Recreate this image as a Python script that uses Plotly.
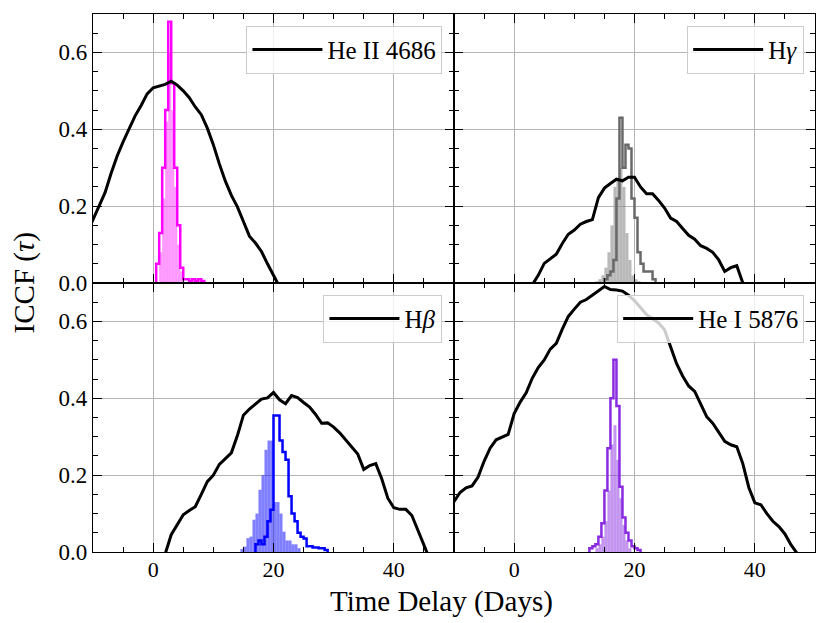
import plotly.graph_objects as go
from plotly.subplots import make_subplots

# ICCF curves (lag in days, correlation coefficient)
heii_lag = list(range(-11, 24))
heii_iccf = [0.13, 0.165, 0.20, 0.235, 0.285, 0.33, 0.367, 0.402, 0.435, 0.462,
             0.492, 0.508, 0.512, 0.517, 0.525, 0.515, 0.50, 0.482, 0.458, 0.438,
             0.403, 0.36, 0.31, 0.265, 0.228, 0.198, 0.16, 0.122, 0.104, 0.082,
             0.05, 0.018, -0.01, -0.04, -0.06]

hg_lag = list(range(2, 40))
hg_iccf = [-0.03, -0.005, 0.02, 0.051, 0.064, 0.075, 0.103, 0.127, 0.138, 0.153,
           0.16, 0.165, 0.222, 0.247, 0.259, 0.27, 0.266, 0.275, 0.275, 0.25,
           0.232, 0.232, 0.215, 0.195, 0.169, 0.16, 0.142, 0.124, 0.114, 0.097,
           0.09, 0.08, 0.06, 0.03, 0.04, 0.045, 0.0, -0.03]

hb_lag = list(range(1, 47))
hb_iccf = [-0.03, -0.005, 0.045, 0.072, 0.097, 0.108, 0.118, 0.15, 0.183, 0.20,
           0.228, 0.243, 0.258, 0.303, 0.356, 0.372, 0.386, 0.398, 0.401, 0.415,
           0.396, 0.386, 0.407, 0.402, 0.389, 0.377, 0.358, 0.335, 0.336, 0.325,
           0.31, 0.292, 0.275, 0.255, 0.215, 0.225, 0.23, 0.19, 0.14, 0.115,
           0.111, 0.111, 0.095, 0.055, 0.015, -0.02]

hei_lag = list(range(-11, 49))
hei_iccf = [0.115, 0.131, 0.155, 0.167, 0.172, 0.195, 0.236, 0.27, 0.292, 0.299,
            0.306, 0.36, 0.39, 0.414, 0.452, 0.48, 0.50, 0.528, 0.543, 0.58,
            0.613, 0.632, 0.65, 0.657, 0.668, 0.681, 0.691, 0.683, 0.682, 0.679,
            0.668, 0.654, 0.637, 0.618, 0.607, 0.596, 0.578, 0.532, 0.49, 0.458,
            0.432, 0.418, 0.383, 0.352, 0.335, 0.312, 0.288, 0.279, 0.274, 0.23,
            0.168, 0.128, 0.123, 0.10, 0.08, 0.066, 0.047, 0.019, -0.003, -0.03]

# CCCD histograms: first bin edge, heights of 0.5-day bins
BIN_W = 0.5
heii_fill_start = 1.0
heii_fill = [0.08, 0.22, 0.42, 0.60, 0.45, 0.25, 0.10, 0.03]
heii_step_start = 0.5
heii_step = [0.05, 0.13, 0.30, 0.45, 0.68, 0.52, 0.30, 0.15, 0.04, 0.01,
             0.01, 0.005, 0.01, 0.005, 0.01, 0.005]

hg_fill_start = 13.5
hg_fill = [0.005, 0.01, 0.02, 0.04, 0.08, 0.15, 0.25, 0.27, 0.30, 0.25,
           0.13, 0.06, 0.02, 0.01, 0.005]
hg_step_start = 15.0
hg_step = [0.01, 0.02, 0.03, 0.06, 0.22, 0.43, 0.30, 0.36, 0.35, 0.22,
           0.17, 0.08, 0.05, 0.03, 0.03, 0.03, 0.01]

hb_fill_start = 14.5
hb_fill = [0.008, 0.014, 0.036, 0.04, 0.084, 0.10, 0.162, 0.20, 0.266, 0.29,
           0.29, 0.13, 0.13, 0.10, 0.053, 0.03, 0.03, 0.02, 0.02, 0.01]
hb_step_start = 17.0
hb_step = [0.02, 0.03, 0.02, 0.04, 0.08, 0.11, 0.355, 0.355, 0.29, 0.26,
           0.24, 0.145, 0.10, 0.08, 0.05, 0.04, 0.035, 0.015, 0.015, 0.012,
           0.012, 0.01, 0.01, 0.005]

hei_fill_start = 13.5
hei_fill = [0.01, 0.02, 0.04, 0.08, 0.16, 0.28, 0.33, 0.24, 0.14, 0.07, 0.03, 0.01]
hei_step_start = 12.5
hei_step = [0.01, 0.015, 0.02, 0.04, 0.075, 0.16, 0.27, 0.40, 0.50, 0.38,
            0.17, 0.09, 0.05, 0.03, 0.015, 0.01, 0.005]

labels = ["He II 4686", "H<i>γ</i>", "H<i>β</i>", "He I 5876"]

FONT = "Liberation Serif"
GRID = "#b5b5b5"

panels = [
    (1, 1, heii_lag, heii_iccf, heii_fill_start, heii_fill, heii_step_start, heii_step,
     "rgba(255,0,255,0.4)", "#ff00ff"),
    (1, 2, hg_lag, hg_iccf, hg_fill_start, hg_fill, hg_step_start, hg_step,
     "rgba(128,128,128,0.55)", "#696969"),
    (2, 1, hb_lag, hb_iccf, hb_fill_start, hb_fill, hb_step_start, hb_step,
     "rgba(0,0,255,0.5)", "#0000ff"),
    (2, 2, hei_lag, hei_iccf, hei_fill_start, hei_fill, hei_step_start, hei_step,
     "rgba(138,43,226,0.5)", "#8a2be2"),
]


def bar_xy(start, heights):
    xs = [start + BIN_W * (i + 0.5) for i in range(len(heights))]
    return xs, heights


def step_xy(start, heights):
    edges = [start + BIN_W * i for i in range(len(heights) + 1)]
    xs = [edges[0]] + edges[:-1] + [edges[-1]]
    ys = [0] + list(heights) + [0]
    return xs, ys


fig = make_subplots(rows=2, cols=2, horizontal_spacing=0, vertical_spacing=0)

legend_names = ["legend", "legend2", "legend3", "legend4"]
for k, (r, c, lag, iccf, fs, fh, ss, sh, fcol, scol) in enumerate(panels):
    bx, by = bar_xy(fs, fh)
    fig.add_trace(go.Bar(x=bx, y=by, width=BIN_W, marker=dict(color=fcol, line=dict(width=0)),
                         showlegend=False), row=r, col=c)
    sx, sy = step_xy(ss, sh)
    fig.add_trace(go.Scatter(x=sx, y=sy, mode="lines", line=dict(color=scol, width=2.5, shape="hv"),
                             showlegend=False), row=r, col=c)
    fig.add_trace(go.Scatter(x=lag, y=iccf, mode="lines", name=labels[k],
                             line=dict(color="black", width=3),
                             legend=legend_names[k]), row=r, col=c)

for r in (1, 2):
    for c in (1, 2):
        fig.update_xaxes(range=[-10, 50], tick0=0, dtick=20, ticks="inside", ticklen=9,
                         tickwidth=1.2, tickcolor="black", mirror="allticks", showline=True,
                         linecolor="black", linewidth=1.2, showgrid=True, gridcolor=GRID,
                         gridwidth=1.4, zeroline=False, showticklabels=(r == 2),
                         ticklabelstandoff=-3,
                         tickfont=dict(family=FONT, size=22, color="black"),
                         minor=dict(dtick=5, ticks="inside", ticklen=5, tickwidth=1.0,
                                    tickcolor="black", showgrid=False),
                         row=r, col=c)
        fig.update_yaxes(range=[0, 0.7], tick0=0, dtick=0.2, tickformat=".1f", ticks="inside",
                         ticklen=9, tickwidth=1.2, tickcolor="black", mirror="allticks",
                         showline=True, linecolor="black", linewidth=1.2, showgrid=True,
                         gridcolor=GRID, gridwidth=1.4, zeroline=False,
                         showticklabels=(c == 1),
                         tickfont=dict(family=FONT, size=23, color="black"),
                         minor=dict(dtick=0.05, ticks="inside", ticklen=5, tickwidth=1.0,
                                    tickcolor="black", showgrid=False),
                         row=r, col=c)

leg_common = dict(font=dict(family=FONT, size=25, color="black"), bgcolor="rgba(255,255,255,0.8)",
                  bordercolor="#cccccc", borderwidth=1, xanchor="right", yanchor="top",
                  itemwidth=70)
fig.update_layout(
    legend=dict(x=0.484, y=0.978, **leg_common),
    legend2=dict(x=0.985, y=0.978, **leg_common),
    legend3=dict(x=0.484, y=0.478, **leg_common),
    legend4=dict(x=0.985, y=0.478, **leg_common),
)

fig.add_annotation(text="Time Delay (Days)", xref="paper", yref="paper", x=0.483, y=-0.092,
                   xanchor="center", yanchor="middle", showarrow=False,
                   font=dict(family=FONT, size=29, color="black"))
fig.add_annotation(text="ICCF (<i>τ</i>)", xref="paper", yref="paper", x=-0.095, y=0.5,
                   xanchor="center", yanchor="middle", showarrow=False, textangle=-90,
                   font=dict(family=FONT, size=29, color="black"))

# page body adds an 8px offset, so the figure is drawn a little smaller
fig.update_layout(width=822, height=615, margin=dict(l=85, r=15, t=6, b=71),
                  template="none", paper_bgcolor="white", plot_bgcolor="white",
                  barmode="overlay", font=dict(family=FONT, color="black"))

fig.write_html("out.html")
